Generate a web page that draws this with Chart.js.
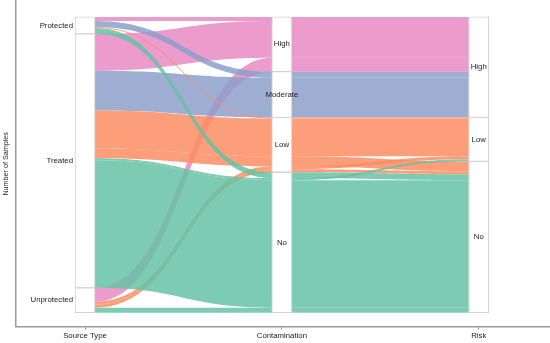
<!DOCTYPE html>
<html>
<head>
<meta charset="utf-8">
<script src="https://cdn.jsdelivr.net/npm/chart.js@4.4.1/dist/chart.umd.min.js"></script>
<style>
  html, body { margin: 0; padding: 0; background: #fff; }
  #wrap { width: 550px; height: 343px; }
</style>
</head>
<body>
<div id="wrap"><canvas id="alluvial"></canvas></div>
<script>
const axisTitles = ['Source Type', 'Contamination', 'Risk'];
const sourceTypes = ['Protected', 'Treated', 'Unprotected'];
const contaminationLevels = ['High', 'Moderate', 'Low', 'No'];
const riskLevels = ['High', 'Low', 'No'];

// one entry per alluvium: source type -> contamination -> risk, with its sample count
const flowSource = ['Protected', 'Protected', 'Protected', 'Protected',
  'Treated', 'Treated', 'Treated', 'Treated', 'Treated', 'Treated',
  'Unprotected', 'Unprotected', 'Unprotected', 'Unprotected'];
const flowContamination = ['High', 'Moderate', 'Low', 'No',
  'High', 'Moderate', 'Low', 'Low', 'No', 'No',
  'High', 'Low', 'Low', 'No'];
const flowRisk = ['High', 'High', 'Low', 'No',
  'High', 'High', 'Low', 'No', 'Low', 'No',
  'High', 'Low', 'No', 'No'];
const flowSamples = [4, 6, 1, 6,
  37, 40, 38, 10, 2, 128,
  14, 3, 3, 5];

const fillColors = {
  High: 'rgba(231, 138, 195, 0.85)',
  Moderate: 'rgba(141, 160, 203, 0.85)',
  Low: 'rgba(252, 141, 98, 0.85)',
  No: 'rgba(102, 194, 165, 0.85)'
};
const STRATUM_PX = 20;
const FONT = "'Liberation Sans', Arial, sans-serif";

const levelsByAxis = [sourceTypes, contaminationLevels, riskLevels];
const flowLevels = [flowSource, flowContamination, flowRisk];
const total = flowSamples.reduce((a, b) => a + b, 0);

// stack alluvia inside each stratum, from the top down
function stackAxis(a, tieAxes) {
  const levels = levelsByAxis[a];
  const rank = (k, i) => levelsByAxis[k].indexOf(flowLevels[k][i]);
  const order = flowSamples.map((_, i) => i).sort((i, j) => {
    let d = rank(a, i) - rank(a, j);
    if (d) return d;
    for (const k of tieAxes) {
      d = rank(k, i) - rank(k, j);
      if (d) return d;
    }
    return i - j;
  });
  const pos = [];
  let top = total;
  order.forEach(i => {
    pos[i] = [top - flowSamples[i], top];
    top -= flowSamples[i];
  });
  const strata = [];
  top = total;
  levels.forEach(lv => {
    const n = flowSamples.filter((_, i) => flowLevels[a][i] === lv).reduce((s, v) => s + v, 0);
    if (n > 0) strata.push({ label: lv, lo: top - n, hi: top });
    top -= n;
  });
  return { pos, strata };
}

const stacks = [
  stackAxis(0, [1, 2]),
  stackAxis(1, [0, 2]),
  stackAxis(2, [1, 0])
];

const strataBars = [];
stacks.forEach((s, a) => s.strata.forEach(st => strataBars.push({ x: a + 1, y: [st.lo, st.hi], label: st.label })));

const flowPlugin = {
  id: 'flows',
  beforeDatasetsDraw(chart) {
    const { ctx, chartArea, scales: { x, y } } = chart;
    ctx.save();
    ctx.beginPath();
    ctx.rect(chartArea.left, chartArea.top, chartArea.right - chartArea.left, chartArea.bottom - chartArea.top);
    ctx.clip();
    contaminationLevels.forEach(level => {
      ctx.fillStyle = fillColors[level];
      flowSamples.forEach((n, i) => {
        if (flowContamination[i] !== level) return;
        for (let a = 0; a < 2; a++) {
          const x0 = x.getPixelForValue(a + 1) + STRATUM_PX / 2;
          const x1 = x.getPixelForValue(a + 2) - STRATUM_PX / 2;
          const mx = (x0 + x1) / 2;
          const p0 = stacks[a].pos[i], p1 = stacks[a + 1].pos[i];
          const t0 = y.getPixelForValue(p0[1]), b0 = y.getPixelForValue(p0[0]);
          const t1 = y.getPixelForValue(p1[1]), b1 = y.getPixelForValue(p1[0]);
          ctx.beginPath();
          ctx.moveTo(x0, t0);
          ctx.bezierCurveTo(mx, t0, mx, t1, x1, t1);
          ctx.lineTo(x1, b1);
          ctx.bezierCurveTo(mx, b1, mx, b0, x0, b0);
          ctx.closePath();
          ctx.fill();
        }
      });
    });
    ctx.restore();
  },
  afterDatasetsDraw(chart) {
    const { ctx, scales: { x, y } } = chart;
    ctx.save();
    ctx.font = '7.8px ' + FONT;
    ctx.fillStyle = '#1a1a1a';
    ctx.textBaseline = 'middle';
    stacks.forEach((s, a) => {
      s.strata.forEach(st => {
        const cy = y.getPixelForValue((st.lo + st.hi) / 2);
        const cx = x.getPixelForValue(a + 1);
        if (a === 0) {
          ctx.textAlign = 'right';
          ctx.fillText(st.label, cx - STRATUM_PX / 2 - 2, cy);
        } else {
          ctx.textAlign = 'center';
          ctx.fillText(st.label, cx, cy);
        }
      });
    });
    ctx.restore();
  }
};

new Chart(document.getElementById('alluvial'), {
  type: 'bar',
  data: {
    datasets: [{
      label: 'strata',
      data: strataBars,
      backgroundColor: '#ffffff',
      borderColor: '#d2d2d2',
      borderWidth: 1,
      borderSkipped: false,
      barThickness: STRATUM_PX,
      grouped: false
    }]
  },
  options: {
    responsive: true,
    maintainAspectRatio: false,
    animation: false,
    layout: { padding: { top: 1, right: 0, bottom: 0, left: 0 } },
    plugins: { legend: { display: false }, tooltip: { enabled: false } },
    scales: {
      x: {
        type: 'linear',
        min: 0.65,
        max: 3.362,
        offset: false,
        afterBuildTicks: scale => { scale.ticks = axisTitles.map((_, i) => ({ value: i + 1 })); },
        ticks: {
          callback: v => axisTitles[v - 1],
          font: { family: FONT, size: 7.8 },
          color: '#1a1a1a',
          padding: 2,
          maxRotation: 0,
          autoSkip: false
        },
        grid: { offset: false, drawOnChartArea: false, drawTicks: true, tickLength: 3, color: '#9a9a9a' },
        border: { display: true, color: '#9a9a9a', width: 1.5 }
      },
      y: {
        type: 'linear',
        min: -14,
        max: 313,
        ticks: { display: false },
        grid: { display: false, drawTicks: false, tickLength: 0 },
        border: { display: true, color: '#9a9a9a', width: 1.5 },
        title: {
          display: true,
          text: 'Number of Samples',
          font: { family: FONT, size: 7.2 },
          color: '#1a1a1a',
          padding: { top: 1.5, bottom: 6 }
        }
      }
    }
  },
  plugins: [flowPlugin]
});
</script>
</body>
</html>
